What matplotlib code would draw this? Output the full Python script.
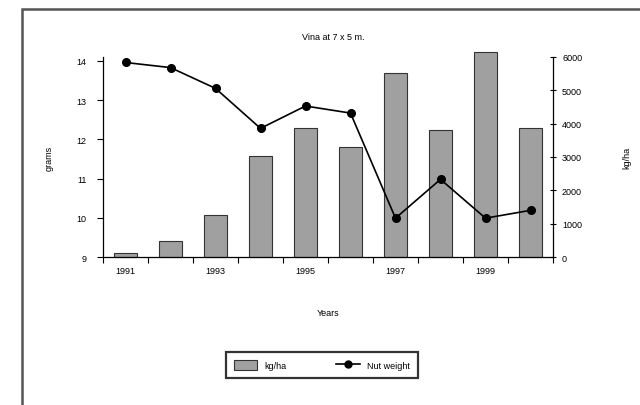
import matplotlib
matplotlib.use("Agg")
import matplotlib.pyplot as plt
from matplotlib.patches import Rectangle
from matplotlib.lines import Line2D
import numpy as np

plt.rcParams['font.family'] = ['Liberation Sans', 'DejaVu Sans']

years = [1991, 1992, 1993, 1994, 1995, 1996, 1997, 1998, 1999, 2000]
kg_ha = [110, 480, 1260, 3040, 3860, 3300, 5520, 3800, 6150, 3860]
nut_weight = [13.96, 13.83, 13.30, 12.28, 12.85, 12.67, 9.99, 10.98, 9.99, 10.19]
left_ticks = [9, 10, 11, 12, 13, 14]
right_ticks = [0, 1000, 2000, 3000, 4000, 5000, 6000]
label_years = [1991, 1993, 1995, 1997, 1999]

W, H = 640, 406
fig = plt.figure(figsize=(6.4, 4.06), dpi=100)

# outer frame
fig.patches.append(Rectangle((22 / W, -0.1), 1.2, (H - 10) / H + 0.1,
                             transform=fig.transFigure, fill=False,
                             edgecolor='#555555', linewidth=1.8))

ax_l = fig.add_axes([103 / W, 1 - 258 / H, (553 - 103) / W, (258 - 58) / H])
ax_r = ax_l.twinx()

x = np.arange(len(years))
ax_r.bar(x, kg_ha, width=0.5, color='#a0a0a0', edgecolor='#333333',
         linewidth=0.8, clip_on=False, zorder=1)
ax_r.set_ylim(0, 6000)
ax_r.set_yticks(right_ticks)
ax_r.set_yticklabels([str(v) for v in right_ticks], fontsize=6.5)
ax_r.tick_params(axis='y', direction='inout', length=5, width=0.8, pad=4)
ax_r.set_ylabel('kg/ha', fontsize=6.5, rotation=90, labelpad=29)

# line on top
ax_l.set_zorder(ax_r.get_zorder() + 1)
ax_l.patch.set_visible(False)
ax_l.plot(x, nut_weight, color='black', linewidth=1.2, marker='o',
          markersize=5.5, clip_on=False)
ax_l.set_ylim(9, 14.1)
ax_l.set_yticks(left_ticks)
ax_l.set_yticklabels([str(v) for v in left_ticks], fontsize=6.5)
ax_l.tick_params(axis='y', direction='out', length=4, width=0.8, pad=8)
ax_l.set_ylabel('grams', fontsize=6.5, labelpad=16)

ax_l.set_xlim(-0.5, len(years) - 0.5)
ax_l.set_xticks(np.arange(-0.5, len(years), 1.0))
ax_l.set_xticklabels([])
ax_l.tick_params(axis='x', direction='out', length=4, width=0.8)
for yr in label_years:
    i = years.index(yr)
    ax_l.text(i, -0.07, str(yr), transform=ax_l.get_xaxis_transform(),
              ha='center', va='center', fontsize=6.5)
ax_l.set_xlabel('Years', fontsize=6.5, labelpad=29)

for a in (ax_l, ax_r):
    a.spines['top'].set_visible(False)
    for s in ('left', 'right', 'bottom'):
        a.spines[s].set_linewidth(0.9)
ax_r.spines['left'].set_visible(False)
ax_l.spines['right'].set_visible(False)
ax_r.spines['bottom'].set_visible(False)

fig.text(333 / W, 1 - 38 / H, 'Vina at 7 x 5 m.', ha='center', va='center',
         fontsize=6.5)

handles = [Rectangle((0, 0), 1, 1, facecolor='#a0a0a0', edgecolor='#333333', linewidth=0.8),
           Line2D([], [], color='black', marker='o', markersize=5, linewidth=1.2)]
leg = fig.legend(handles, ['kg/ha', 'Nut weight'], loc='center',
                 bbox_to_anchor=(322 / W, 1 - 366 / H), ncol=2, fontsize=6.5,
                 frameon=True, fancybox=False, edgecolor='black',
                 handlelength=2.6, handleheight=1.4, columnspacing=5.5,
                 borderpad=0.9, borderaxespad=0)
leg.get_frame().set_linewidth(1.6)

fig.savefig('out.png', dpi=100)
